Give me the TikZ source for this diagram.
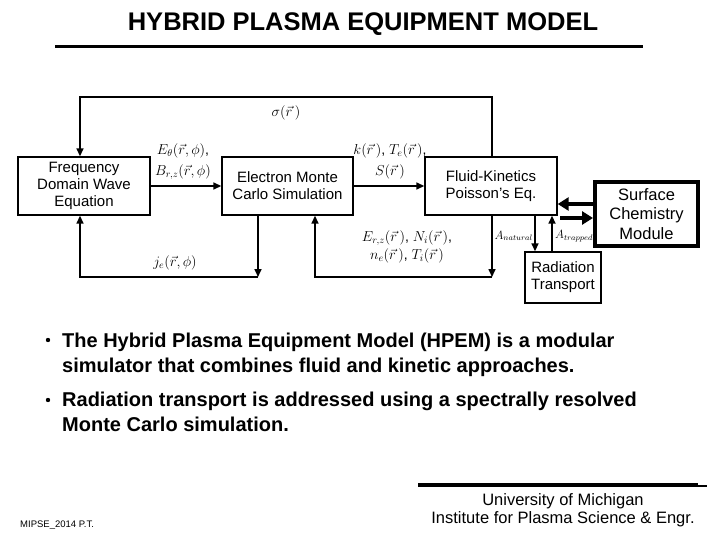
\documentclass[tikz,border=0pt]{standalone}
\usepackage{fontspec}
\setmainfont{Liberation Sans}
\usetikzlibrary{arrows.meta,calc}
\begin{document}
\begin{tikzpicture}[x=1pt,y=-1pt,
  box/.style={draw, line width=1.4pt, align=center, font=\fontsize{15}{17}\selectfont, inner sep=0pt},
  conn/.style={line width=1.6pt, -{Triangle[length=8pt,width=7pt]}},
  plain/.style={line width=1.6pt},
  bigarr/.style={line width=4pt, -{Triangle[length=11pt,width=13pt]}},
  lab/.style={font=\fontsize{14}{16}\selectfont, inner sep=0pt},
  bul/.style={font=\bfseries\fontsize{20}{24}\selectfont, anchor=base west, inner sep=0pt},
]
\path[use as bounding box] (0,0) rectangle (720,540);

% title
\node[font=\bfseries\fontsize{25.5}{28}\selectfont, anchor=base, inner sep=0pt] (title) at (363,31) {HYBRID PLASMA EQUIPMENT MODEL};
\draw[line width=3pt] (55,47) -- (643,47);

% boxes
\node[box, minimum width=132pt, minimum height=58pt] (fdwe) at (84,186) {Frequency\\Domain Wave\\Equation};
\node[box, minimum width=131pt, minimum height=58pt] (emcs) at (287.5,186) {Electron Monte\\Carlo Simulation};
\node[box, minimum width=132pt, minimum height=58pt] (fluid) at (491,186) {Fluid-Kinetics\\Poisson’s Eq.};
\node[box, line width=4pt, minimum width=103pt, minimum height=64pt, font=\fontsize{16.5}{19.5}\selectfont] (scm) at (646.5,214) {Surface\\Chemistry\\Module};
\node[box, minimum width=76pt, minimum height=51pt] (rt) at (563,277.5) {Radiation\\Transport};

% helper coordinates
\coordinate (t1) at (80,97);
\coordinate (t2) at (492,97);
\coordinate (b1) at (258,277);
\coordinate (b2) at (80,277);
\coordinate (b3) at (315,277);
\coordinate (b4) at (492,277);
\coordinate (r1) at (535,0);
\coordinate (r2) at (552,0);
\coordinate (s1) at (0,204);
\coordinate (s2) at (560,218);

% connectors
\draw[conn] (t2 |- fluid.north) -- (t2) -- (t1) -- (t1 |- fdwe.north);
\draw[conn] (fdwe.east) -- (emcs.west);
\draw[conn] (emcs.east) -- (fluid.west);
\draw[conn] (b1 |- emcs.south) -- (b1);
\draw[conn] (b1) -- (b2) -- (b2 |- fdwe.south);
\draw[conn] (b4 |- fluid.south) -- (b4);
\draw[conn] (b4) -- (b3) -- (b3 |- emcs.south);
\draw[conn] (r1 |- fluid.south) -- (r1 |- rt.north);
\draw[conn] (r2 |- rt.north) -- (r2 |- fluid.south);
\draw[bigarr] (scm.west |- s1) -- (fluid.east |- s1);
\draw[bigarr] (s2) -- (scm.west |- s2);

% labels
\node[lab] (lsig) at (286,113) {$\sigma(\vec r\,)$};
\node[lab] (lE) at (183,151) {$E_\theta(\vec r,\phi)$,};
\node[lab] (lB) at (183,172) {$B_{r,z}(\vec r,\phi)$};
\node[lab] (lk) at (390,151) {$k(\vec r\,)$, $T_e(\vec r\,)$,};
\node[lab] (lS) at (390,172) {$S(\vec r\,)$};
\node[lab] (lEr) at (407,238) {$E_{r,z}(\vec r\,)$, $N_i(\vec r\,)$,};
\node[lab] (lne) at (407,256) {$n_e(\vec r\,)$, $T_i(\vec r\,)$};
\node[lab] (lj) at (175,263) {$j_e(\vec r,\phi)$};
\node[lab, font=\fontsize{11.5}{13}\selectfont, anchor=east] (lan) at (533,236) {$A_{natural}$};
\node[lab, font=\fontsize{11.5}{13}\selectfont, anchor=west] (lat) at (555,236) {$A_{trapped}$};

% bullets
\fill (48,340) circle (2.2pt);
\node[bul] (p1) at (62,347) {The Hybrid Plasma Equipment Model (HPEM) is a modular};
\node[bul] (p2) at (62,372) {simulator that combines fluid and kinetic approaches.};
\fill (48,400) circle (2.2pt);
\node[bul] (p3) at (62,406) {Radiation transport is addressed using a spectrally resolved};
\node[bul] (p4) at (62,431) {Monte Carlo simulation.};

% footer
\draw[line width=4pt] (418,485) -- (698,485);
\draw[line width=2pt] (698,486) -- (707,486);
\node[font=\fontsize{16.5}{18.5}\selectfont, align=center, inner sep=0pt] (um) at (563,510) {University of Michigan\\Institute for Plasma Science \& Engr.};
\node[font=\fontsize{9.5}{11}\selectfont, anchor=base west, inner sep=0pt] (mipse) at (20,527) {MIPSE\_2014 P.T.};
\end{tikzpicture}
\end{document}
